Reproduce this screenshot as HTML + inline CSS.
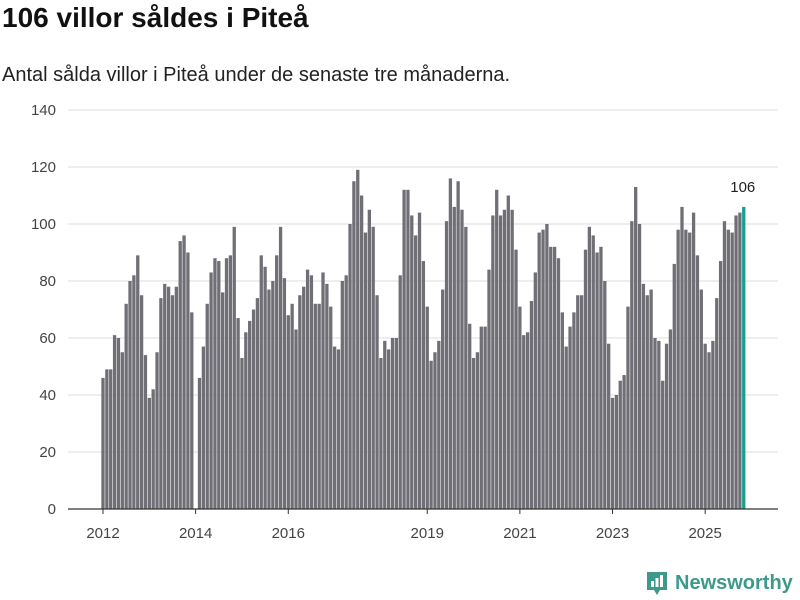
<!DOCTYPE html>
<html><head><meta charset="utf-8"><style>
body{margin:0;background:#fff;font-family:"Liberation Sans","DejaVu Sans",sans-serif;}
#wrap{position:relative;width:800px;height:600px;overflow:hidden;}
h1{position:absolute;left:2px;top:2px;margin:0;font-size:28px;font-weight:bold;color:#111;}
.sub{position:absolute;left:2px;top:64px;font-size:20px;color:#222;}
</style></head><body>
<div id="wrap">
<h1>106 villor såldes i Piteå</h1>
<div class="sub">Antal sålda villor i Piteå under de senaste tre månaderna.</div>
<svg id="chart" width="800" height="600" style="position:absolute;left:0;top:0"></svg>
<div style="position:absolute;left:645px;top:570px;height:26px;display:flex;align-items:center;">
<svg width="24" height="26" viewBox="0 0 24 26"><path d="M2 2h20v18h-7l-3 5-3-5H2z" fill="#3d9a8b"/><rect x="6" y="11" width="3" height="6" fill="#fff"/><rect x="10.5" y="8" width="3" height="9" fill="#fff"/><rect x="15" y="5" width="3" height="12" fill="#fff"/></svg>
<span style="margin-left:6px;font-size:20px;font-weight:bold;color:#3d9a8b;">Newsworthy</span></div>
</div>
<script>
const values=[46,49,49,61,60,55,72,80,82,89,75,54,
39,42,55,74,79,78,75,78,94,96,90,69,
null,46,57,72,83,88,87,76,88,89,99,67,
53,62,66,70,74,89,85,77,80,89,99,81,
68,72,63,75,78,84,82,72,72,83,79,71,
57,56,80,82,100,115,119,110,97,105,99,75,
53,59,56,60,60,82,112,112,103,96,104,87,
71,52,55,59,77,101,116,106,115,105,99,65,
53,55,64,64,84,103,112,103,105,110,105,91,
71,61,62,73,83,97,98,100,92,92,88,69,
57,64,69,75,75,91,99,96,90,92,80,58,
39,40,45,47,71,101,113,100,79,75,77,60,
59,45,58,63,86,98,106,98,97,104,89,77,
58,55,59,74,87,101,98,97,103,104,106];
const yTicks=[0,20,40,60,80,100,120,140];
const xYears=[2012,2014,2016,2019,2021,2023,2025];
const startYear=2012;
const svg=document.getElementById('chart');
const NS='http://www.w3.org/2000/svg';
const y=v=>509-v*(399/140);
const x=i=>103+i*3.86;
function mk(t,a){const e=document.createElementNS(NS,t);for(const k in a)e.setAttribute(k,a[k]);svg.appendChild(e);return e;}
yTicks.forEach(t=>{
 if(t===0)return;
 const l=mk('line',{x1:68,x2:778,y1:y(t),y2:y(t),stroke:'#ddd','stroke-width':1});
 
 
});
yTicks.forEach(t=>{
 const tx=mk('text',{x:56,y:y(t)+5,'text-anchor':'end','font-size':15,fill:'#444','font-family':'Liberation Sans, sans-serif'});
 tx.textContent=t;
 
 
});
values.forEach((v,i)=>{
 if(v==null)return;
 const last=i===values.length-1;
 const r=mk('rect',{x:x(i)-1.65,y:y(v),width:3.3,height:509-y(v),fill:last?'#14a08c':'#706f76'});
 
 
 if(last){
  const t=mk('text',{x:x(i)-1,y:y(v)-15,'text-anchor':'middle','font-size':15,fill:'#222','font-family':'Liberation Sans, sans-serif'});
  t.textContent=v;
  
  
 }
});
const base=mk('line',{x1:68,x2:778,y1:509,y2:509,stroke:'#333','stroke-width':1.2});


xYears.forEach(yr=>{
 const xi=x((yr-startYear)*12);
 const tk=mk('line',{x1:xi,x2:xi,y1:509,y2:514,stroke:'#333'});
 
 
 const tx=mk('text',{x:xi,y:538,'text-anchor':'middle','font-size':15,fill:'#444','font-family':'Liberation Sans, sans-serif'});
 tx.textContent=yr;
 
 
});
</script>
</body></html>
